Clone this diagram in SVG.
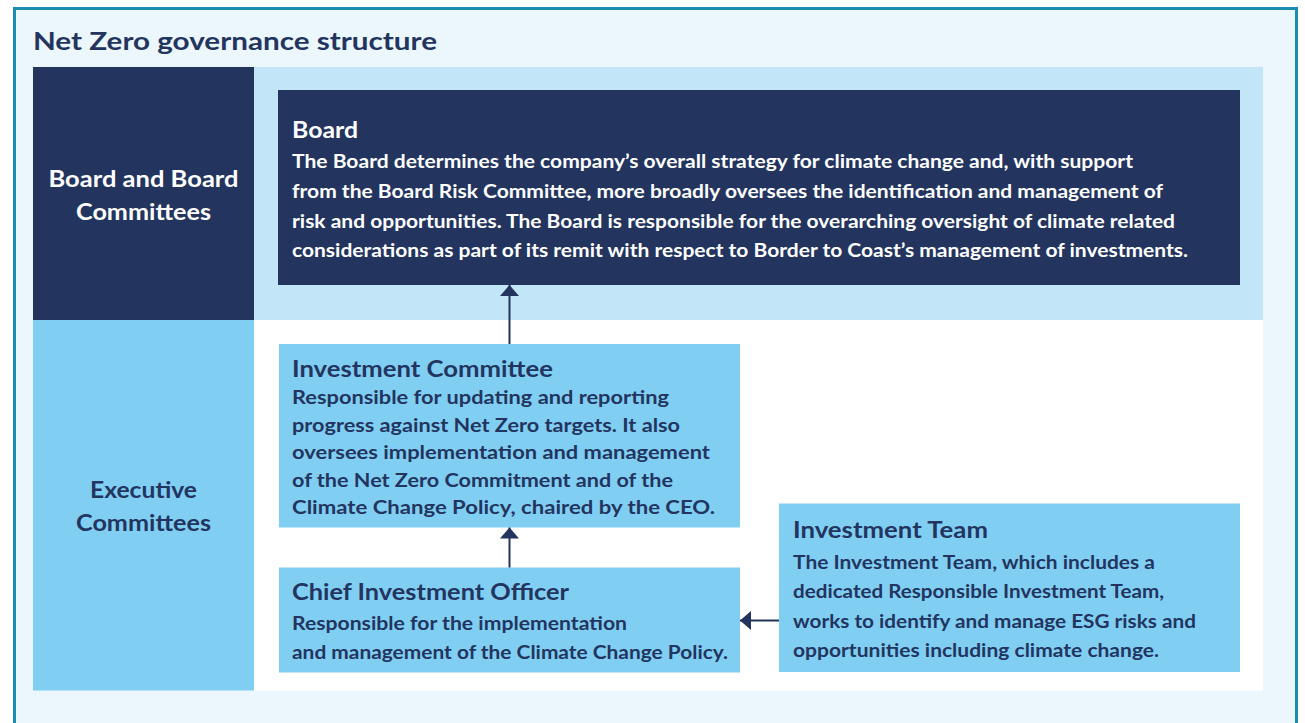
<svg xmlns="http://www.w3.org/2000/svg" width="1305" height="723" viewBox="0 0 1305 723">
  <defs>
    <style>
      text { font-family: Lato, "Open Sans", "Liberation Sans", sans-serif; font-weight: bold; }
      .title { font-size: 24px; fill: #23355f; }
      .side { font-size: 22.5px; }
      .head { font-size: 22px; }
      .body { font-size: 18px; }
      .white { fill: #ffffff; }
      .navy { fill: #23355f; }
      .conn { stroke: #23355f; stroke-width: 2; fill: none; }
    </style>
    <marker id="arrow" viewBox="0 0 10 10" refX="10" refY="5" markerWidth="9.5" markerHeight="9.5" markerUnits="userSpaceOnUse" orient="auto">
      <path d="M0,0 L10,5 L0,10 Z" fill="#23355f"/>
    </marker>
    <marker id="arrowV" viewBox="0 0 11 19" refX="11" refY="9.5" markerWidth="11" markerHeight="19" markerUnits="userSpaceOnUse" orient="auto">
      <path d="M0,0 L11,9.5 L0,19 Z" fill="#23355f"/>
    </marker>
  </defs>

  <!-- frame -->
  <rect x="0" y="0" width="1305" height="723" fill="#ffffff"/>
  <rect x="14.5" y="8.5" width="1282" height="800" fill="#ebf6fd" stroke="#1a8db0" stroke-width="3"/>
  <text class="title" x="33" y="50" textLength="404" lengthAdjust="spacingAndGlyphs">Net Zero governance structure</text>

  <!-- bands -->
  <g id="band-board">
    <rect x="33" y="67" width="221" height="253" fill="#23355f"/>
    <rect x="254" y="67" width="1009" height="253" fill="#c2e6f8"/>
    <text class="side white" x="143.5" y="187" text-anchor="middle" textLength="190" lengthAdjust="spacingAndGlyphs">Board and Board</text>
    <text class="side white" x="143.5" y="220" text-anchor="middle" textLength="135" lengthAdjust="spacingAndGlyphs">Committees</text>
  </g>
  <g id="band-executive">
    <rect x="33" y="320" width="221" height="370.5" fill="#80cff3"/>
    <rect x="254" y="320" width="1009" height="370.5" fill="#ffffff"/>
    <text class="side navy" x="143.5" y="498" text-anchor="middle" textLength="107" lengthAdjust="spacingAndGlyphs">Executive</text>
    <text class="side navy" x="143.5" y="531" text-anchor="middle" textLength="135" lengthAdjust="spacingAndGlyphs">Committees</text>
  </g>

  <!-- nodes -->
  <g id="board">
    <rect x="278" y="90" width="962" height="195" fill="#23355f"/>
    <text class="head white" x="292" y="138" textLength="66" lengthAdjust="spacingAndGlyphs">Board</text>
    <text class="body white" x="292" y="168" textLength="841" lengthAdjust="spacingAndGlyphs">The Board determines the company’s overall strategy for climate change and, with support</text>
    <text class="body white" x="292" y="198" textLength="871" lengthAdjust="spacingAndGlyphs">from the Board Risk Committee, more broadly oversees the identification and management of</text>
    <text class="body white" x="292" y="228" textLength="883" lengthAdjust="spacingAndGlyphs">risk and opportunities. The Board is responsible for the overarching oversight of climate related</text>
    <text class="body white" x="292" y="257" textLength="896" lengthAdjust="spacingAndGlyphs">considerations as part of its remit with respect to Border to Coast’s management of investments.</text>
  </g>

  <g id="investment-committee">
    <rect x="279" y="344" width="461" height="183.5" fill="#80cff3"/>
    <text class="head navy" x="292" y="377" textLength="261" lengthAdjust="spacingAndGlyphs">Investment Committee</text>
    <text class="body navy" x="292" y="404" textLength="377" lengthAdjust="spacingAndGlyphs">Responsible for updating and reporting</text>
    <text class="body navy" x="292" y="432" textLength="388" lengthAdjust="spacingAndGlyphs">progress against Net Zero targets. It also</text>
    <text class="body navy" x="292" y="459" textLength="418" lengthAdjust="spacingAndGlyphs">oversees implementation and management</text>
    <text class="body navy" x="292" y="487" textLength="381" lengthAdjust="spacingAndGlyphs">of the Net Zero Commitment and of the</text>
    <text class="body navy" x="292" y="514" textLength="423" lengthAdjust="spacingAndGlyphs">Climate Change Policy, chaired by the CEO.</text>
  </g>

  <g id="chief-investment-officer">
    <rect x="279" y="567.5" width="461" height="105" fill="#80cff3"/>
    <text class="head navy" x="292" y="600" textLength="277" lengthAdjust="spacingAndGlyphs">Chief Investment Officer</text>
    <text class="body navy" x="292" y="630" textLength="335" lengthAdjust="spacingAndGlyphs">Responsible for the implementation</text>
    <text class="body navy" x="292" y="659" textLength="436" lengthAdjust="spacingAndGlyphs">and management of the Climate Change Policy.</text>
  </g>

  <g id="investment-team">
    <rect x="779" y="503.5" width="461" height="168.5" fill="#80cff3"/>
    <text class="head navy" x="793" y="538" textLength="195" lengthAdjust="spacingAndGlyphs">Investment Team</text>
    <text class="body navy" x="793" y="569" textLength="362" lengthAdjust="spacingAndGlyphs">The Investment Team, which includes a</text>
    <text class="body navy" x="793" y="598" textLength="371" lengthAdjust="spacingAndGlyphs">dedicated Responsible Investment Team,</text>
    <text class="body navy" x="793" y="628" textLength="403" lengthAdjust="spacingAndGlyphs">works to identify and manage ESG risks and</text>
    <text class="body navy" x="793" y="657" textLength="366" lengthAdjust="spacingAndGlyphs">opportunities including climate change.</text>
  </g>

  <!-- connectors -->
  <g id="connectors">
    <line class="conn" x1="509.5" y1="344" x2="509.5" y2="285" marker-end="url(#arrowV)"/>
    <line class="conn" x1="509.5" y1="567.5" x2="509.5" y2="527.5" marker-end="url(#arrowV)"/>
    <line class="conn" x1="779" y1="620.5" x2="740" y2="620.5" marker-end="url(#arrowV)"/>
  </g>
</svg>
